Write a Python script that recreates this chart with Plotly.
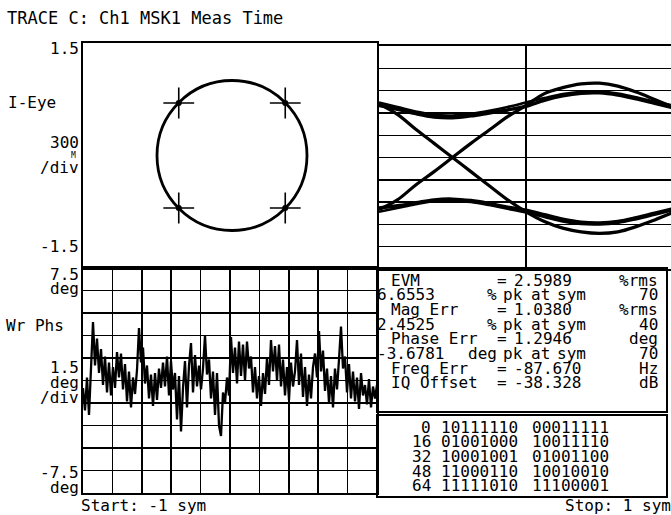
import plotly.graph_objects as go

W, H = 671, 515
FONT = "DejaVu Sans Mono"

# ---------------- data ----------------
# I/Q polar trajectory (constant envelope) and symbol points
IQ_RADIUS = 1.0
IQ_SYMBOLS_I = [0.71, -0.71, -0.71, 0.71]
IQ_SYMBOLS_Q = [0.70, 0.70, -0.70, -0.70]

# I-eye diagram, time in symbols
EYE_T = [-1.0, -0.875, -0.75, -0.625, -0.5, -0.375, -0.25, -0.125, 0.0,
         0.125, 0.25, 0.375, 0.5, 0.625, 0.75, 0.875, 1.0]
EYE_TOP_A = [0.70, 0.65, 0.59, 0.545, 0.535, 0.56, 0.60, 0.64, 0.69,
             0.77, 0.83, 0.865, 0.87, 0.84, 0.79, 0.73, 0.67]
EYE_TOP_B = [0.74, 0.68, 0.62, 0.575, 0.565, 0.59, 0.63, 0.68, 0.74,
             0.80, 0.855, 0.885, 0.89, 0.86, 0.81, 0.75, 0.70]
EYE_BOT_A = [-0.68, -0.65, -0.61, -0.57, -0.56, -0.58, -0.62, -0.67, -0.71,
             -0.77, -0.83, -0.87, -0.88, -0.86, -0.81, -0.75, -0.69]
EYE_BOT_B = [-0.73, -0.68, -0.63, -0.59, -0.585, -0.60, -0.64, -0.69, -0.74,
             -0.80, -0.86, -0.895, -0.90, -0.88, -0.83, -0.77, -0.71]
EYE_RISE = [-0.70, -0.57, -0.37, -0.19, 0.0, 0.19, 0.37, 0.55, 0.70,
            0.86, 0.94, 0.99, 1.00, 0.96, 0.88, 0.78, 0.68]
EYE_FALL = [0.72, 0.58, 0.38, 0.19, 0.0, -0.19, -0.38, -0.57, -0.73,
            -0.86, -0.95, -1.00, -1.02, -1.00, -0.93, -0.84, -0.74]

# Wrapped phase error (deg), read across the sweep
PHASE_ERR_DEG = [
    -0.5, -2.0, 0.2, -2.3, 0.8, 3.9, 1.0, 2.8, 0.5, 2.1, -0.3, 1.6, -0.8, 1.2,
    -1.0, 0.9, -0.5, 1.9, 0.2, 1.8, -0.6, 1.1, -1.4, 0.6, -1.8, 0.2, -0.9, 0.7,
    3.5, 1.2, 2.2, -0.2, 1.0, -1.2, 0.4, -1.7, 0.5, -1.3, 0.8, -0.5, 1.2, -0.4,
    1.6, -1.0, 1.3, -0.6, 0.5, -2.6, 0.3, -3.4, -0.5, 1.3, -1.8, 1.0, 2.5, -0.8,
    1.7, -0.4, 1.0, -0.6, 0.8, 3.0, 0.4, 1.4, -1.2, 0.6, -2.3, 0.5, -3.0, -3.7,
    -0.8, -1.5, 0.2, -1.0, 2.9, 0.5, 2.2, -0.2, 2.6, 0.3, 2.4, 0.0, 2.6, 0.8,
    1.6, -0.8, 0.9, -1.2, 0.3, -1.7, 0.5, -0.9, 1.5, -0.3, 2.7, 0.6, 2.3, 0.0,
    2.4, -0.4, 1.4, -1.0, 0.9, -1.3, 1.2, -0.4, 0.6, 2.7, -0.3, 1.8, -1.1, 0.9,
    -1.7, 0.4, -1.2, 0.9, 1.8, 0.2, 3.3, 0.6, 2.0, -0.7, 0.8, -1.5, 0.3, -1.8,
    0.8, -0.6, 1.4, 3.6, 0.8, 1.6, -0.8, 1.1, -1.2, 0.6, -1.4, 0.2, -1.9, 0.5,
    -1.0, -0.3, -1.6, 0.1, -1.8, -0.4, -1.2, -0.3,
]

# Measurement summary
METRIC_LABELS = ["EVM", "Mag Err", "Phase Err", "Freq Err", "IQ Offset"]
METRIC_VALUES = ["2.5989", "1.0380", "1.2946", "-87.670", "-38.328"]
METRIC_UNITS = ["%rms", "%rms", "deg", "Hz", "dB"]
PEAK_VALUES = ["6.6553", "2.4525", "-3.6781"]
PEAK_UNITS = ["%", "%", "deg"]
PEAK_SYMBOLS = ["70", "40", "70"]

# Demodulated bits
BIT_OFFSETS = ["0", "16", "32", "48", "64"]
BIT_GROUP_A = ["10111110", "01001000", "10001001", "11000110", "11111010"]
BIT_GROUP_B = ["00011111", "10011110", "01001100", "10010010", "11100001"]

TITLE = "TRACE C: Ch1 MSK1 Meas Time"
START_LABEL = "Start: -1 sym"
STOP_LABEL = "Stop: 1 sym"

# ---------------- figure ----------------
def px_x(x):
    return x / W


def px_y(y):
    return 1 - y / H


fig = go.Figure()

# I/Q symbol markers
fig.add_trace(go.Scatter(x=IQ_SYMBOLS_I, y=IQ_SYMBOLS_Q, mode="markers",
                         marker=dict(symbol="cross-thin", size=22,
                                     line=dict(color="black", width=1.6)),
                         xaxis="x", yaxis="y", hoverinfo="skip"))
fig.add_trace(go.Scatter(x=IQ_SYMBOLS_I, y=IQ_SYMBOLS_Q, mode="markers",
                         marker=dict(symbol="circle", size=6, color="black"),
                         xaxis="x", yaxis="y", hoverinfo="skip"))

# Eye traces
for ys, w in [(EYE_TOP_A, 3.5), (EYE_TOP_B, 2.5), (EYE_BOT_A, 3.5), (EYE_BOT_B, 2.5),
              (EYE_RISE, 3.2), (EYE_FALL, 3.2)]:
    fig.add_trace(go.Scatter(x=EYE_T, y=ys, mode="lines",
                             line=dict(color="black", width=w, shape="spline"),
                             xaxis="x2", yaxis="y2", hoverinfo="skip"))

# Phase error trace
n_ph = len(PHASE_ERR_DEG)
fig.add_trace(go.Scatter(x=list(range(n_ph)), y=PHASE_ERR_DEG, mode="lines",
                         line=dict(color="black", width=2.3),
                         xaxis="x3", yaxis="y3", hoverinfo="skip"))

axis_common = dict(showticklabels=False, ticks="", zeroline=False,
                   linecolor="black", linewidth=2, fixedrange=True)

iq_px_per_unit = (268 - 43) / 3.0
iq_half_w = (377 - 83) / 2 / iq_px_per_unit
iq_shift = (230 - 232) / iq_px_per_unit

ph_span = n_ph - 1
eye_left = -1.0
eye_px_per_sym = 526 - 379
eye_right = (671 - 526) / eye_px_per_sym

fig.update_layout(
    width=W, height=H, margin=dict(l=0, r=0, t=0, b=0),
    paper_bgcolor="white", plot_bgcolor="white", showlegend=False,
    hovermode=False,
    xaxis=dict(domain=[px_x(83), px_x(377)], range=[-iq_half_w + iq_shift, iq_half_w + iq_shift],
               showgrid=False, showline=True, mirror=True, anchor="y", **axis_common),
    yaxis=dict(domain=[px_y(268), px_y(43)], range=[-1.5, 1.5],
               showgrid=False, showline=True, mirror=True, anchor="x", **axis_common),
    xaxis2=dict(domain=[px_x(379), 1.0], range=[eye_left, eye_right],
                tickvals=[0], showgrid=True, gridcolor="black", gridwidth=1.4,
                showline=True, mirror=True, anchor="y2", **axis_common),
    yaxis2=dict(domain=[px_y(269), px_y(46)], range=[-1.5, 1.5],
                tickvals=[-1.2, -0.9, -0.6, -0.3, 0, 0.3, 0.6, 0.9, 1.2],
                showgrid=True, gridcolor="black", gridwidth=1.4,
                showline=True, mirror=False, anchor="x2", **axis_common),
    xaxis3=dict(domain=[px_x(83), px_x(377)], range=[0, ph_span],
                tickvals=[ph_span * i / 10 for i in range(1, 10)],
                showgrid=True, gridcolor="black", gridwidth=1.7,
                showline=True, mirror=True, anchor="y3", **axis_common),
    yaxis3=dict(domain=[px_y(493), px_y(268)], range=[-7.5, 7.5],
                tickvals=[-6, -4.5, -3, -1.5, 0, 1.5, 3, 4.5, 6],
                showgrid=True, gridcolor="black", gridwidth=1.7,
                showline=True, mirror=True, anchor="x3", **axis_common),
)

shapes = [
    # constant-envelope I/Q trajectory
    dict(type="circle", xref="x", yref="y", x0=-IQ_RADIUS, y0=-IQ_RADIUS,
         x1=IQ_RADIUS, y1=IQ_RADIUS, line=dict(color="black", width=2.8)),
    # measurement panel
    dict(type="rect", xref="paper", yref="paper", x0=px_x(377), x1=px_x(667),
         y0=px_y(412), y1=px_y(268), line=dict(color="black", width=2)),
    # bits panel
    dict(type="rect", xref="paper", yref="paper", x0=px_x(377), x1=px_x(667),
         y0=px_y(497), y1=px_y(415), line=dict(color="black", width=2)),
]
fig.update_layout(shapes=shapes)

ann = []


def txt(s, x, y, anchor="left", size=16):
    ann.append(dict(text=s, x=px_x(x), y=px_y(y), xref="paper", yref="paper",
                    xanchor=anchor, yanchor="middle", showarrow=False,
                    borderpad=0,
                    font=dict(family=FONT, size=size, color="black")))


txt(TITLE, 6, 18, size=17)

# left axis labels (top)
txt("1.5", 80, 48, "right")
txt("I-Eye", 7, 103)
txt("300", 80, 143, "right")
txt("M", 77, 155, "right", size=8)
txt("/div", 80, 167, "right")
txt("-1.5", 80, 247, "right")
# left axis labels (bottom)
txt("7.5", 80, 274, "right")
txt("deg", 80, 288, "right")
txt("Wr Phs", 5, 325)
txt("1.5", 80, 367, "right")
txt("deg", 80, 382, "right")
txt("/div", 80, 397, "right")
txt("-7.5", 80, 472, "right")
txt("deg", 80, 487, "right")

txt(START_LABEL, 80, 505)
txt(STOP_LABEL, 672, 505, "right")

# measurement summary
row_y = [280 + 14.7 * i for i in range(8)]
metric_rows = [0, 2, 4, 6, 7]
for k, r in enumerate(metric_rows):
    txt(METRIC_LABELS[k], 390, row_y[r])
    txt("=", 502, row_y[r], "center")
    txt(METRIC_VALUES[k], 513, row_y[r])
    txt(METRIC_UNITS[k], 659, row_y[r], "right")
peak_rows = [1, 3, 5]
for k, r in enumerate(peak_rows):
    txt(PEAK_VALUES[k], 376, row_y[r])
    txt(PEAK_UNITS[k], 498, row_y[r], "right")
    txt("pk", 502, row_y[r])
    txt("at", 530, row_y[r])
    txt("sym", 556, row_y[r])
    txt(PEAK_SYMBOLS[k], 659, row_y[r], "right")

# bits
bit_y = [427 + 14.7 * i for i in range(5)]
for k in range(5):
    txt(BIT_OFFSETS[k], 432, bit_y[k], "right")
    txt(BIT_GROUP_A[k], 440, bit_y[k])
    txt(BIT_GROUP_B[k], 531, bit_y[k])

fig.update_layout(annotations=ann)

fig.write_html("out.html", config={"displayModeBar": False, "staticPlot": True},
               post_script="document.body.style.margin='0';document.body.style.overflow='hidden';")
